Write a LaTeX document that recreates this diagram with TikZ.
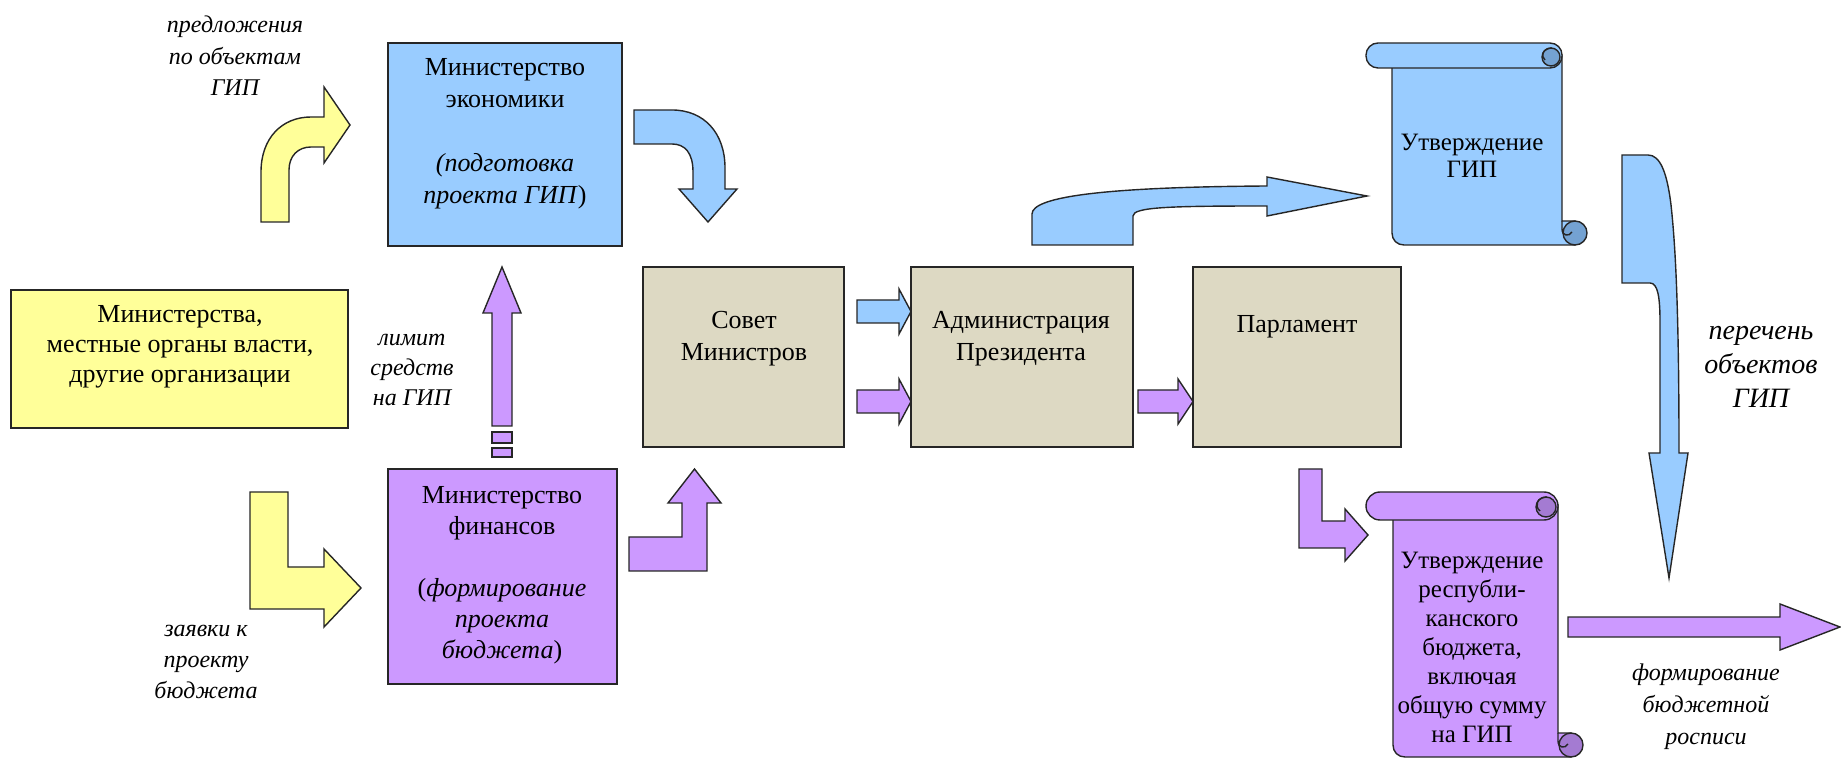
\documentclass[tikz,border=0pt]{standalone}
\usepackage{fontspec}
\setmainfont{Liberation Serif}
\definecolor{cblue}{HTML}{99CCFF}
\definecolor{cpurp}{HTML}{CC99FF}
\definecolor{cyel}{HTML}{FFFF99}
\definecolor{cbeige}{HTML}{DDD9C3}
\definecolor{cbluedk}{HTML}{74A2D2}
\definecolor{cpurpdk}{HTML}{A47BD2}
\begin{document}
\begin{tikzpicture}[x=0.5pt,y=-0.5pt,line join=miter,
  outl/.style={draw=black!85,line width=0.7pt},
  boxnode/.style={outl,rectangle,inner sep=0pt,outer sep=0pt},
  lbl/.style={align=center,inner sep=0pt,font=\fontsize{12}{15.5}\selectfont\itshape},
  btxt/.style={align=center,inner sep=0pt,font=\fontsize{13}{16}\selectfont}]
\useasboundingbox (0,0) rectangle (1841,758);

% boxes
\node[boxnode,fill=cblue,minimum width=117pt,minimum height=101.5pt] (econ) at (505,144.5) {};
\node[boxnode,fill=cpurp,minimum width=114.5pt,minimum height=107.5pt] (fin) at (502.5,576.5) {};
\node[boxnode,fill=cyel,minimum width=168.5pt,minimum height=69pt] (mins) at (179.5,359) {};
\node[boxnode,fill=cbeige,minimum width=100.5pt,minimum height=90pt] (sovet) at (743.5,357) {};
\node[boxnode,fill=cbeige,minimum width=111pt,minimum height=90pt] (admin) at (1022,357) {};
\node[boxnode,fill=cbeige,minimum width=104pt,minimum height=90pt] (parl) at (1297,357) {};

% box texts
\node[btxt] (econt) at (505,134) {Министерство\\экономики\\[16pt]\textit{(подготовка}\\\textit{проекта ГИП})};
\node[btxt,font=\fontsize{13}{15.5}\selectfont] (fint) at (502,575) {Министерство\\финансов\\[15.5pt](\textit{формирование}\\\textit{проекта}\\\textit{бюджета})};
\node[btxt,font=\fontsize{13}{15}\selectfont] (minst) at (180,347) {Министерства,\\местные органы власти,\\другие организации};
\node[btxt] (sovett) at (744,339) {Совет\\Министров};
\node[btxt] (admint) at (1021,339) {Администрация\\Президента};
\node[btxt] (parlt) at (1297,327) {Парламент};

% labels
\node[lbl,font=\fontsize{12}{15.75}\selectfont\itshape] (l1) at (235,56) {предложения\\по объектам\\ГИП};
\node[lbl,font=\fontsize{12}{15}\selectfont\itshape] (l2) at (412,370) {лимит\\средств\\на ГИП};
\node[lbl] (l3) at (206,662) {заявки к\\проекту\\бюджета};
\node[lbl,font=\fontsize{14}{17}\selectfont\itshape] (l4) at (1761,367) {перечень\\объектов\\ГИП};
\node[lbl,font=\fontsize{12}{16}\selectfont\itshape] (l5) at (1706,707) {формирование\\бюджетной\\росписи};

% yellow bent arrow (up then right)
\path[outl,fill=cyel] (261,222) -- (261,172) .. controls (261,138) and (282,117) .. (311,117) -- (324,117) -- (324,87) -- (350,125) -- (324,163) -- (324,147) -- (311,147) .. controls (298,147) and (289,156) .. (289,170) -- (289,222) -- cycle;
% yellow L arrow
\path[outl,fill=cyel] (250,492) -- (288,492) -- (288,567) -- (324,567) -- (324,549) -- (361,588) -- (324,627) -- (324,609) -- (250,609) -- cycle;
% blue curved econ -> sovet
\path[outl,fill=cblue] (634,110) -- (672,110) .. controls (704,110) and (725,133) .. (725,168) -- (725,189) -- (737,189) -- (708,222) -- (679,189) -- (693,189) -- (693,172) .. controls (693,153) and (685,144) .. (672,144) -- (634,144) -- cycle;
% small arrows sovet -> admin
\path[outl,fill=cblue] (857,300) -- (899,300) -- (899,289) -- (911,311.5) -- (899,334) -- (899,323) -- (857,323) -- cycle;
\path[outl,fill=cpurp] (857,390) -- (899,390) -- (899,379) -- (911,401.5) -- (899,424) -- (899,413) -- (857,413) -- cycle;
% admin -> parl
\path[outl,fill=cpurp] (1138,390) -- (1178,390) -- (1178,379) -- (1193,401.5) -- (1178,424) -- (1178,413) -- (1138,413) -- cycle;
% fin -> sovet bent up
\path[outl,fill=cpurp] (629,537) -- (682,537) -- (682,503) -- (668,503) -- (694.5,469) -- (721,503) -- (707,503) -- (707,571) -- (629,571) -- cycle;
% fin -> econ up arrow
\path[outl,fill=cpurp] (492,426) -- (492,313) -- (483,313) -- (502,267) -- (521,313) -- (512,313) -- (512,426) -- cycle;
\path[outl,fill=cpurp] (492,432) rectangle (512,443);
\path[outl,fill=cpurp] (492,448) rectangle (512,457);
% admin -> scroll curved
\path[outl,fill=cblue] (1032,245) -- (1032,214) .. controls (1032,196) and (1110,187) .. (1267,186) -- (1267,177) -- (1367,196) -- (1267,216) -- (1267,206) .. controls (1170,206) and (1133,207) .. (1133,216) -- (1133,245) -- cycle;
% big down arrow
\path[outl,fill=cblue] (1622,155) -- (1648,155) .. controls (1660,155) and (1667,172) .. (1671,205) .. controls (1676,250) and (1679,320) .. (1679,453) -- (1688,453) -- (1669,578) -- (1649,453) -- (1660,453) -- (1660,322) .. controls (1660,298) and (1658,283) .. (1650,283) -- (1622,283) -- cycle;
% parl -> budget scroll
\path[outl,fill=cpurp] (1299,469) -- (1322,469) -- (1322,521) -- (1345,521) -- (1345,509) -- (1368,535) -- (1345,561) -- (1345,548) -- (1299,548) -- cycle;
% big right purple
\path[outl,fill=cpurp] (1568,617) -- (1780,617) -- (1780,604) -- (1840,627) -- (1780,650) -- (1780,637) -- (1568,637) -- cycle;

% blue scroll
\path[outl,fill=cblue] (1392,60) -- (1392,233) .. controls (1392,240) and (1397,245) .. (1404,245) -- (1575,245) -- (1575,221) -- (1562,221) -- (1562,55) -- cycle;
\path[outl,fill=cblue,rounded corners=6pt] (1366,43) rectangle (1562,68);
\path[outl,fill=cbluedk] (1575,233) circle[radius=12];
\draw[outl] (1562,221) -- (1562,229) .. controls (1562,236) and (1569,237) .. (1572,232);
\path[outl,fill=cbluedk] (1551,57) circle[radius=9];
\draw[outl] (1552,48) .. controls (1543,48) and (1540,56) .. (1545,60);
\node[btxt,font=\fontsize{12.5}{13.5}\selectfont] (s1t) at (1472,156) {Утверждение\\ГИП};

% purple scroll
\path[outl,fill=cpurp] (1393,510) -- (1393,745) .. controls (1393,752) and (1398,757) .. (1405,757) -- (1571,757) -- (1571,733) -- (1558,733) -- (1558,505) -- cycle;
\path[outl,fill=cpurp,rounded corners=7pt] (1366,492) rectangle (1558,520);
\path[outl,fill=cpurpdk] (1571,745) circle[radius=12];
\draw[outl] (1558,733) -- (1558,741) .. controls (1558,748) and (1565,749) .. (1568,744);
\path[outl,fill=cpurpdk] (1546,507) circle[radius=10];
\draw[outl] (1547,497) .. controls (1537,497) and (1534,506) .. (1540,511);
\node[btxt,font=\fontsize{12.5}{14.5}\selectfont] (s2t) at (1472,647) {Утверждение\\республи-\\канского\\бюджета,\\включая\\общую сумму\\на ГИП};
\end{tikzpicture}
\end{document}
